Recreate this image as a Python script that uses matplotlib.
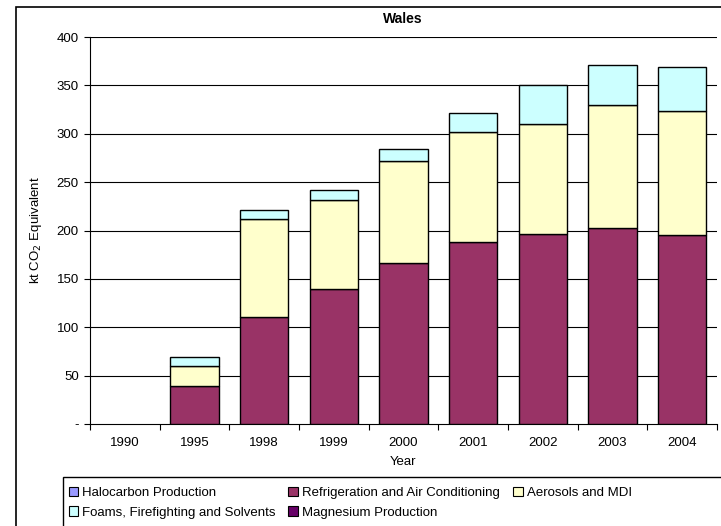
import matplotlib.pyplot as plt
import numpy as np
from matplotlib.patches import Rectangle, Patch

plt.rcParams['font.family'] = ['Liberation Sans', 'DejaVu Sans']

years = ["1990", "1995", "1998", "1999", "2000", "2001", "2002", "2003", "2004"]
halocarbon = [0, 0, 0, 0, 0, 0, 0, 0, 0]
refrigeration = [0, 39, 111, 140, 166, 188, 196, 203, 195]
aerosols = [0, 21, 101, 92, 106, 114, 114, 127, 129]
foams = [0, 9, 9, 10, 12, 19, 40, 41, 45]
magnesium = [0, 0, 0, 0, 0, 0, 0, 0, 0]

c_halo = "#9999FF"
c_refr = "#993366"
c_aero = "#FFFFCC"
c_foam = "#CCFFFF"
c_magn = "#660066"

W, H = 721, 526
fig = plt.figure(figsize=(W / 100, H / 100), dpi=100)
ax = fig.add_axes([90 / W, 1 - 424 / H, 627 / W, 387 / H])

x = np.arange(len(years))
bw = 0.69
series = [(halocarbon, c_halo), (refrigeration, c_refr), (aerosols, c_aero),
          (foams, c_foam), (magnesium, c_magn)]
bottom = np.zeros(len(years))
for vals, col in series:
    vals = np.array(vals, dtype=float)
    mask = vals > 0
    ax.bar(x[mask], vals[mask], bw, bottom=bottom[mask], color=col,
           edgecolor="black", linewidth=1.0, zorder=3)
    bottom += vals

ax.set_xlim(-0.5, len(years) - 0.5)
ax.set_ylim(0, 400)
ax.set_yticks(np.arange(0, 401, 50))
ax.set_yticklabels(["-"] + [str(v) for v in range(50, 401, 50)])
for v in range(50, 401, 50):
    ax.axhline(v, color="black", linewidth=0.8, zorder=1)

ax.set_xticks(x)
ax.set_xticklabels(years)
ax.set_xticks(np.arange(-0.5, len(years), 1), minor=True)
ax.tick_params(axis="x", which="major", length=0, pad=9, labelsize=9.5)
ax.tick_params(axis="x", which="minor", length=4, width=0.8, direction="out")
ax.tick_params(axis="y", length=4, width=0.8, pad=4, labelsize=9.5)

for s in ["top", "right"]:
    ax.spines[s].set_visible(False)
ax.spines["left"].set_linewidth(0.8)
ax.spines["bottom"].set_linewidth(0.8)

fig.text(403 / W, 1 - 19 / H, "Wales", ha="center", va="center",
         fontsize=10, fontweight="bold")
fig.text(403 / W, 1 - 462 / H, "Year", ha="center", va="center", fontsize=9.5)
fig.text(36 / W, 1 - 230 / H, "kt CO$_2$ Equivalent", ha="center", va="center",
         rotation=90, fontsize=9.5)

# outer chart frame and legend frame
fig.patches.append(Rectangle((16 / W, -0.05), 1.0, 0.05 + 1 - 7 / H,
                             transform=fig.transFigure, fill=False,
                             edgecolor="black", linewidth=1.2))
fig.patches.append(Rectangle((63 / W, -0.05), 1.0, 0.05 + 1 - 477 / H,
                             transform=fig.transFigure, fill=False,
                             edgecolor="black", linewidth=1.0))

labels = ["Halocarbon Production", "Foams, Firefighting and Solvents",
          "Refrigeration and Air Conditioning", "Magnesium Production",
          "Aerosols and MDI"]
colors = [c_halo, c_foam, c_refr, c_magn, c_aero]
handles = [Patch(facecolor=c, edgecolor="black", linewidth=0.8) for c in colors]
fig.legend(handles, labels, ncol=3, loc="upper left",
           bbox_to_anchor=(58 / W, 1 - 476 / H), frameon=False, fontsize=9.5,
           handlelength=0.75, handleheight=0.75, handletextpad=0.3,
           columnspacing=0.95, labelspacing=0.55, borderpad=0.3)

fig.savefig("out.png", dpi=100)
